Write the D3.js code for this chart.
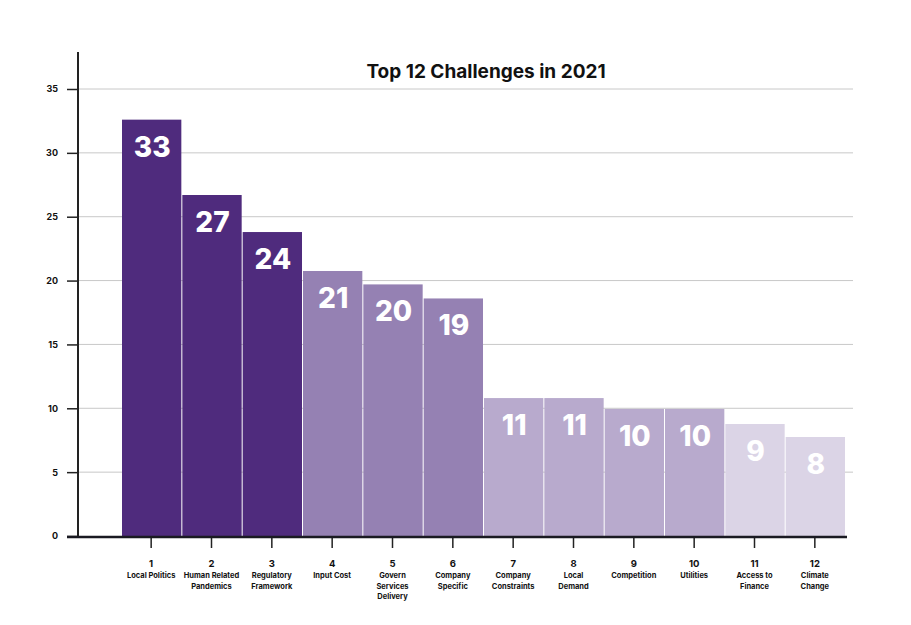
<!DOCTYPE html>
<html><head><meta charset="utf-8">
<script src="https://cdn.jsdelivr.net/npm/d3@7"></script>
<style>body{margin:0;background:#fff}svg{display:block}text{font-family:Inter,"Open Sans",sans-serif}</style>
</head><body>
<svg id="c" width="911" height="625"></svg>
<script>
const ranks = ["1","2","3","4","5","6","7","8","9","10","11","12"];
const names = [["Local Politics"],["Human Related","Pandemics"],["Regulatory","Framework"],["Input Cost"],["Govern","Services","Delivery"],["Company","Specific"],["Company","Constraints"],["Local","Demand"],["Competition"],["Utilities"],["Access to","Finance"],["Climate","Change"]];
const values = [32.6, 26.7, 23.8, 20.75, 19.7, 18.6, 10.8, 10.8, 9.95, 9.95, 8.77, 7.75];
const labels = [33, 27, 24, 21, 20, 19, 11, 11, 10, 10, 9, 8];
const groups = [0,0,0,1,1,1,2,2,2,2,3,3];
const yTicks = [0,5,10,15,20,25,30,35];
const palette = ["#4f2b7d","#9581b3","#b8aacd","#dbd4e6"];

const svg = d3.select("#c");
const x = d3.scaleBand().domain(ranks).range([121, 845]).padding(0);
const y = d3.scaleLinear().domain([0, 35]).range([536, 89]);

// gridlines
svg.append("g").selectAll("line").data(yTicks.filter(d=>d>0)).join("line")
  .attr("x1", 78).attr("x2", 853).attr("y1", d=>y(d)).attr("y2", d=>y(d))
  .attr("stroke", "#c8c8c8").attr("stroke-width", 1);

// bars
svg.append("g").selectAll("rect").data(values).join("rect")
  .attr("x", (d,i)=>x(ranks[i])+1).attr("width", x.bandwidth()-1)
  .attr("y", d=>y(d)).attr("height", d=>y(0)-y(d))
  .attr("fill", (d,i)=>palette[groups[i]]);

// value labels
svg.append("g").selectAll("text").data(values).join("text")
  .attr("x", (d,i)=>x(ranks[i])+x.bandwidth()/2+1).attr("y", d=>y(d)+37)
  .attr("text-anchor","middle").attr("fill","#fff").attr("font-weight",800)
  .attr("font-size", 28).text((d,i)=>labels[i]);

// y axis
const ya = svg.append("g").attr("transform","translate(78,0)")
  .call(d3.axisLeft(y).tickValues(yTicks).tickSize(11).tickPadding(9));
ya.select(".domain").remove();
ya.selectAll(".tick line").attr("stroke","#222").attr("stroke-width",1.5);
ya.selectAll(".tick text").attr("font-size",9).attr("font-weight",700).attr("fill","#111").style("font-family","Inter,'Open Sans',sans-serif");
svg.append("line").attr("x1",78).attr("x2",78).attr("y1",52).attr("y2",537).attr("stroke","#222").attr("stroke-width",2);

// x axis
const xa = svg.append("g").attr("transform","translate(0,537)")
  .call(d3.axisBottom(x).tickSize(11).tickPadding(12));
xa.select(".domain").remove();
xa.selectAll(".tick line").attr("stroke","#222").attr("stroke-width",1.5);
xa.selectAll(".tick text").attr("font-size",9.5).attr("font-weight",700).attr("fill","#111").style("font-family","Inter,'Open Sans',sans-serif");
svg.append("line").attr("x1",67).attr("x2",847).attr("y1",537).attr("y2",537).attr("stroke","#1a1a22").attr("stroke-width",2.5);

// category names
const ng = svg.append("g");
names.forEach((lines,i)=>{
  const t = ng.append("text").attr("x", x(ranks[i])+x.bandwidth()/2).attr("y", 578)
    .attr("text-anchor","middle").attr("font-size",7.5).attr("font-weight",700).attr("fill","#111");
  lines.forEach((l,j)=>t.append("tspan").attr("x", x(ranks[i])+x.bandwidth()/2).attr("dy", j===0?0:10.5).text(l));
});

// title
svg.append("text").attr("x",486).attr("y",78).attr("text-anchor","middle")
  .attr("font-size",19).attr("font-weight",700).attr("fill","#111").text("Top 12 Challenges in 2021");
</script>
</body></html>
